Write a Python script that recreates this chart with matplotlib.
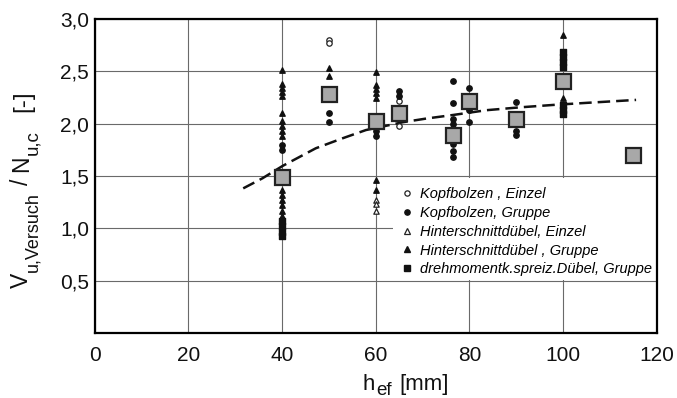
import matplotlib
matplotlib.use("Agg")
import matplotlib.pyplot as plt
from matplotlib import font_manager
from matplotlib.patches import Rectangle
from matplotlib.lines import Line2D

# ---- data -------------------------------------------------------------
kb_einzel_x = [50, 50, 65, 65]
kb_einzel_y = [2.80, 2.77, 2.22, 1.98]

kb_gruppe_x = [40, 40, 50, 50, 60, 60, 65, 65,
               76.5, 76.5, 76.5, 76.5, 76.5, 76.5, 76.5,
               80, 80, 80, 90, 90, 90]
kb_gruppe_y = [1.80, 1.75, 2.10, 2.02, 1.93, 1.88, 2.31, 2.27,
               2.41, 2.20, 2.05, 2.00, 1.81, 1.74, 1.68,
               2.34, 2.13, 2.02, 2.21, 1.93, 1.89]

hs_einzel_x = [60, 60, 60]
hs_einzel_y = [1.27, 1.23, 1.17]

hs_gruppe_x = [40] * 16 + [50, 50] + [60] * 9 + [100, 100]
hs_gruppe_y = [2.51, 2.38, 2.34, 2.30, 2.27, 2.10, 2.03, 1.98, 1.93, 1.88,
               1.37, 1.32, 1.27, 1.22, 1.17, 1.12,
               2.53, 2.46,
               2.49, 2.37, 2.33, 2.29, 2.25, 2.06, 1.99, 1.46, 1.37,
               2.85, 2.25]

dm_gruppe_x = [40] * 4 + [100] * 7
dm_gruppe_y = [1.07, 1.02, 0.97, 0.93,
               2.69, 2.64, 2.59, 2.54, 2.18, 2.13, 2.09]

mean_x = [40, 50, 60, 65, 76.5, 80, 90, 100, 115]
mean_y = [1.49, 2.28, 2.03, 2.10, 1.89, 2.22, 2.05, 2.41, 1.70]

trend_x = [31.7, 35.8, 40.1, 47.2, 52.9, 57.9, 65.8, 70.8, 76.5, 83.7, 90.8, 97.9, 105.1, 115.6]
trend_y = [1.383, 1.479, 1.597, 1.766, 1.861, 1.94, 2.015, 2.05, 2.084, 2.13, 2.157, 2.18, 2.20, 2.228]

x_ticks = [0, 20, 40, 60, 80, 100, 120]
y_ticks = [0.5, 1.0, 1.5, 2.0, 2.5, 3.0]
y_ticklabels = ["0,5", "1,0", "1,5", "2,0", "2,5", "3,0"]

legend_labels = ["Kopfbolzen , Einzel", "Kopfbolzen, Gruppe",
                 "Hinterschnittdübel, Einzel", "Hinterschnittdübel , Gruppe",
                 "drehmomentk.spreiz.Dübel, Gruppe"]

# ---- fonts ------------------------------------------------------------
installed = {f.name for f in font_manager.fontManager.ttflist}
axis_font = "Liberation Sans" if "Liberation Sans" in installed else "DejaVu Sans"
plt.rcParams["font.family"] = [axis_font, "DejaVu Sans"]

W, H = 677, 398
TXT = "#111111"

# ---- figure -----------------------------------------------------------
fig = plt.figure(figsize=(W / 100, H / 100), dpi=100)
ax = fig.add_axes([0.140, 0.163, 0.830, 0.789])
ax.set_xlim(0, 120)
ax.set_ylim(0, 3.0)

ax.set_axisbelow(True)
ax.grid(True, color="#6a6a6a", linewidth=0.8)
for s in ax.spines.values():
    s.set_linewidth(1.6)
    s.set_color("black")

ax.set_xticks(x_ticks)
ax.set_yticks(y_ticks)
ax.set_yticklabels(y_ticklabels)
ax.tick_params(axis="both", length=0, labelsize=15, colors=TXT)
ax.tick_params(axis="x", pad=9)
ax.tick_params(axis="y", pad=4)

# white panel behind the legend, bounded by the 0,5 and 1,5 grid lines
ax.add_patch(Rectangle((0.531, 0.170), 0.469, 0.325, transform=ax.transAxes,
                       facecolor="white", edgecolor="none", zorder=1))

ax.plot(trend_x, trend_y, color="#111111", linewidth=1.8,
        dashes=(5, 2.4), zorder=2)

ms = 15
ax.scatter(kb_einzel_x, kb_einzel_y, s=ms, marker="o", facecolor="white",
           edgecolor="#222222", linewidth=0.9, zorder=3)
ax.scatter(kb_gruppe_x, kb_gruppe_y, s=ms, marker="o", color="#111111", zorder=3)
ax.scatter(hs_einzel_x, hs_einzel_y, s=ms, marker="^", facecolor="white",
           edgecolor="#222222", linewidth=0.9, zorder=3)
ax.scatter(hs_gruppe_x, hs_gruppe_y, s=ms, marker="^", color="#111111", zorder=3)
ax.scatter(dm_gruppe_x, dm_gruppe_y, s=ms, marker="s", color="#111111", zorder=3)

ax.plot(mean_x, mean_y, linestyle="none", marker="s", markersize=10.8,
        markerfacecolor="#a8a8a8", markeredgecolor="#222222",
        markeredgewidth=1.6, zorder=4)


# ---- axis titles with large subscripts, set piece by piece ------------
def piece(x_px, y_px, s, size, rotation=0):
    """Place a text run whose baseline starts at pixel (x_px, y_px), top-left origin."""
    fig.text(x_px / W, 1 - y_px / H, s, fontsize=size, color=TXT,
             rotation=rotation, rotation_mode="anchor",
             ha="left", va="baseline")


# horizontal: h_ef [mm]
piece(363, 390, "h", 16)
piece(376, 395, "ef", 13.5)
piece(399, 390, "[mm]", 16)

# vertical: V_u,Versuch / N_u,c [-]
piece(28, 288, "V", 16.5, 90)
piece(37, 272, "u,Versuch", 13, 90)
piece(28, 185, "/", 16.5, 90)
piece(28, 172, "N", 16.5, 90)
piece(37, 155, "u,c", 13.5, 90)
piece(29, 112, "[-]", 17.5, 90)

# ---- legend -----------------------------------------------------------
msz = 3.8
handles = [
    Line2D([], [], linestyle="none", marker="o", markersize=msz,
           markerfacecolor="white", markeredgecolor="#222222", markeredgewidth=0.9),
    Line2D([], [], linestyle="none", marker="o", markersize=msz, color="#111111"),
    Line2D([], [], linestyle="none", marker="^", markersize=msz,
           markerfacecolor="white", markeredgecolor="#222222", markeredgewidth=0.9),
    Line2D([], [], linestyle="none", marker="^", markersize=msz, color="#111111"),
    Line2D([], [], linestyle="none", marker="s", markersize=msz, color="#111111"),
]
leg = ax.legend(handles, legend_labels, numpoints=1,
                loc="upper left", bbox_to_anchor=(0.543, 0.465),
                frameon=False, borderpad=0, handlelength=1.0,
                handletextpad=0.35, labelspacing=0.33, borderaxespad=0,
                prop={"family": axis_font, "style": "italic", "size": 10.5})
leg.set_zorder(5)

fig.savefig("out.png", dpi=100)
